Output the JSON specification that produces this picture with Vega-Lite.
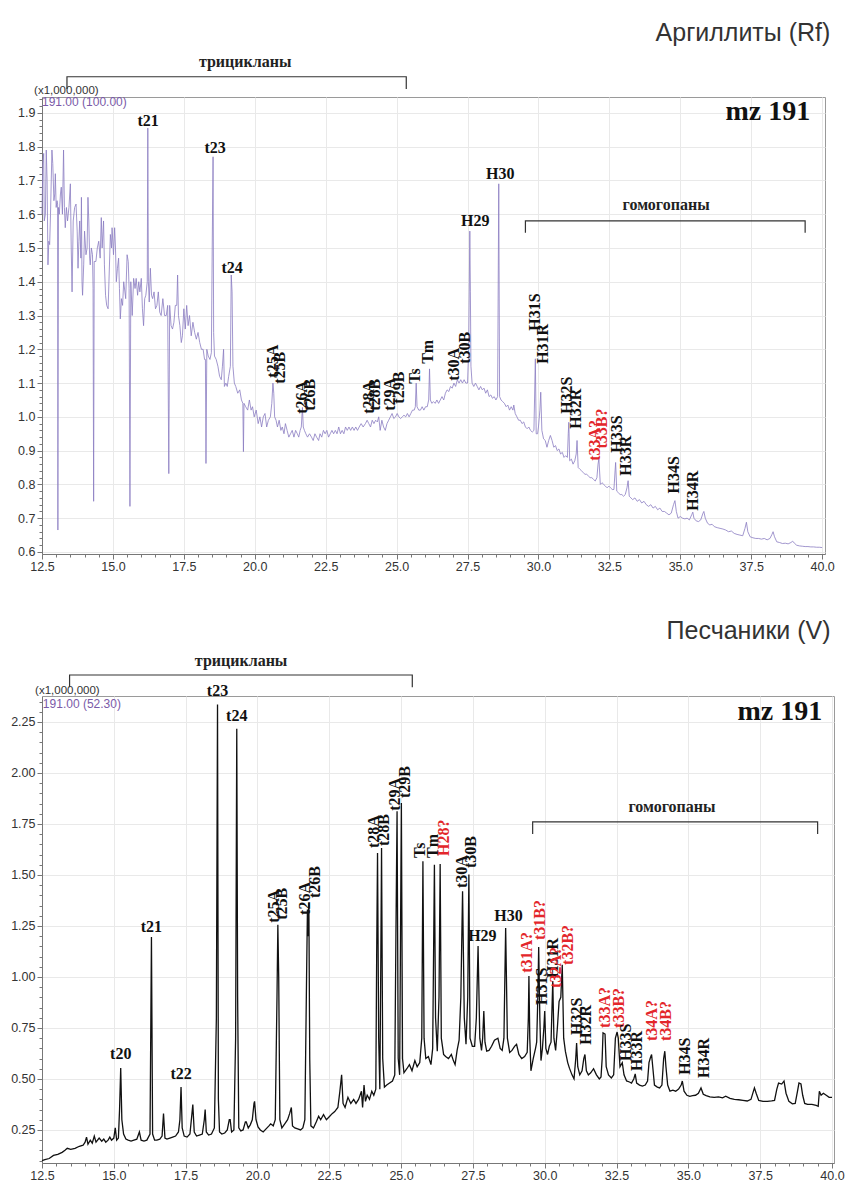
{
  "$schema": "https://vega.github.io/schema/vega-lite/v6.json",
  "padding": {"left": 10, "top": 20, "right": 0, "bottom": 0},
  "background": "white",
  "spacing": 142,
  "bounds": "flush",
  "resolve": {"scale": {"x": "independent", "y": "independent"}},
  "config": {
    "view": {"stroke": "#9a9a9a", "strokeWidth": 1},
    "axis": {"domainColor": "#777", "tickColor": "#777", "labelColor": "#333", "labelFont": "Liberation Sans", "labelFontSize": 12.5, "gridColor": "#e9e9e9", "labelOverlap": false, "labelFlush": false, "title": null, "labelPadding": 2},
    "axisX": {"labelPadding": 1}
  },
  "datasets": {
    "rf": [
      {"t":12.50,"v":1.60},{"t":12.53,"v":1.75},{"t":12.56,"v":1.78},{"t":12.58,"v":1.58},{"t":12.62,"v":1.60},{"t":12.65,"v":1.79},{"t":12.68,"v":1.70},{"t":12.71,"v":1.45},{"t":12.74,"v":1.52},{"t":12.77,"v":1.51},{"t":12.80,"v":1.60},{"t":12.85,"v":1.79},{"t":12.88,"v":1.75},{"t":12.92,"v":1.64},{"t":12.95,"v":1.66},{"t":12.97,"v":1.72},{"t":13.00,"v":1.62},{"t":13.03,"v":1.64},{"t":13.05,"v":1.63},{"t":13.06,"v":0.665},{"t":13.08,"v":1.62},{"t":13.11,"v":1.60},{"t":13.15,"v":1.66},{"t":13.18,"v":1.68},{"t":13.22,"v":1.60},{"t":13.26,"v":1.79},{"t":13.29,"v":1.62},{"t":13.32,"v":1.56},{"t":13.36,"v":1.62},{"t":13.40,"v":1.58},{"t":13.45,"v":1.62},{"t":13.50,"v":1.69},{"t":13.53,"v":1.50},{"t":13.56,"v":1.37},{"t":13.60,"v":1.58},{"t":13.65,"v":1.62},{"t":13.70,"v":1.63},{"t":13.74,"v":1.55},{"t":13.77,"v":1.44},{"t":13.80,"v":1.52},{"t":13.83,"v":1.58},{"t":13.87,"v":1.47},{"t":13.89,"v":1.65},{"t":13.91,"v":1.40},{"t":13.93,"v":1.36},{"t":13.97,"v":1.45},{"t":14.00,"v":1.55},{"t":14.05,"v":1.48},{"t":14.09,"v":1.50},{"t":14.12,"v":1.65},{"t":14.15,"v":1.58},{"t":14.18,"v":1.47},{"t":14.20,"v":1.45},{"t":14.24,"v":1.50},{"t":14.28,"v":1.48},{"t":14.30,"v":1.38},{"t":14.32,"v":0.75},{"t":14.34,"v":1.46},{"t":14.40,"v":1.46},{"t":14.45,"v":1.50},{"t":14.50,"v":1.52},{"t":14.55,"v":1.47},{"t":14.59,"v":1.59},{"t":14.62,"v":1.50},{"t":14.67,"v":1.58},{"t":14.70,"v":1.45},{"t":14.74,"v":1.36},{"t":14.78,"v":1.33},{"t":14.83,"v":1.32},{"t":14.86,"v":1.40},{"t":14.91,"v":1.54},{"t":14.95,"v":1.50},{"t":14.97,"v":1.56},{"t":15.02,"v":1.48},{"t":15.06,"v":1.56},{"t":15.09,"v":1.50},{"t":15.12,"v":1.40},{"t":15.16,"v":1.44},{"t":15.20,"v":1.47},{"t":15.23,"v":1.38},{"t":15.26,"v":1.29},{"t":15.30,"v":1.35},{"t":15.34,"v":1.33},{"t":15.38,"v":1.40},{"t":15.45,"v":1.35},{"t":15.50,"v":1.48},{"t":15.54,"v":1.46},{"t":15.57,"v":1.38},{"t":15.60,"v":0.735},{"t":15.63,"v":1.40},{"t":15.68,"v":1.30},{"t":15.73,"v":1.41},{"t":15.78,"v":1.38},{"t":15.82,"v":1.41},{"t":15.87,"v":1.36},{"t":15.91,"v":1.40},{"t":15.95,"v":1.37},{"t":16.00,"v":1.41},{"t":16.04,"v":1.32},{"t":16.08,"v":1.27},{"t":16.12,"v":1.35},{"t":16.16,"v":1.36},{"t":16.21,"v":1.40},{"t":16.23,"v":1.855},{"t":16.25,"v":1.40},{"t":16.28,"v":1.34},{"t":16.32,"v":1.44},{"t":16.36,"v":1.36},{"t":16.40,"v":1.35},{"t":16.45,"v":1.37},{"t":16.50,"v":1.32},{"t":16.55,"v":1.33},{"t":16.60,"v":1.37},{"t":16.65,"v":1.31},{"t":16.70,"v":1.30},{"t":16.76,"v":1.35},{"t":16.82,"v":1.30},{"t":16.88,"v":1.30},{"t":16.93,"v":1.33},{"t":16.97,"v":0.832},{"t":17.00,"v":1.33},{"t":17.05,"v":1.27},{"t":17.10,"v":1.26},{"t":17.15,"v":1.28},{"t":17.20,"v":1.33},{"t":17.25,"v":1.33},{"t":17.28,"v":1.42},{"t":17.31,"v":1.30},{"t":17.36,"v":1.27},{"t":17.41,"v":1.22},{"t":17.45,"v":1.24},{"t":17.50,"v":1.32},{"t":17.55,"v":1.26},{"t":17.60,"v":1.33},{"t":17.65,"v":1.27},{"t":17.70,"v":1.30},{"t":17.76,"v":1.24},{"t":17.82,"v":1.28},{"t":17.88,"v":1.25},{"t":17.94,"v":1.23},{"t":18.00,"v":1.25},{"t":18.06,"v":1.22},{"t":18.12,"v":1.20},{"t":18.18,"v":1.20},{"t":18.23,"v":1.17},{"t":18.26,"v":1.17},{"t":18.28,"v":0.862},{"t":18.31,"v":1.20},{"t":18.36,"v":1.18},{"t":18.42,"v":1.17},{"t":18.47,"v":1.19},{"t":18.50,"v":1.50},{"t":18.53,"v":1.77},{"t":18.55,"v":1.25},{"t":18.58,"v":1.18},{"t":18.64,"v":1.17},{"t":18.70,"v":1.15},{"t":18.76,"v":1.12},{"t":18.82,"v":1.11},{"t":18.86,"v":1.15},{"t":18.90,"v":1.20},{"t":18.93,"v":1.09},{"t":18.98,"v":1.10},{"t":19.03,"v":1.09},{"t":19.08,"v":1.12},{"t":19.14,"v":1.15},{"t":19.17,"v":1.42},{"t":19.20,"v":1.37},{"t":19.23,"v":1.15},{"t":19.28,"v":1.10},{"t":19.33,"v":1.09},{"t":19.40,"v":1.07},{"t":19.47,"v":1.08},{"t":19.53,"v":1.05},{"t":19.58,"v":1.04},{"t":19.60,"v":0.897},{"t":19.62,"v":1.04},{"t":19.68,"v":1.03},{"t":19.75,"v":1.02},{"t":19.81,"v":1.05},{"t":19.87,"v":1.02},{"t":19.92,"v":1.03},{"t":19.98,"v":1.00},{"t":20.05,"v":1.02},{"t":20.12,"v":0.98},{"t":20.18,"v":1.00},{"t":20.24,"v":0.97},{"t":20.30,"v":1.00},{"t":20.36,"v":1.01},{"t":20.42,"v":0.97},{"t":20.48,"v":0.99},{"t":20.55,"v":1.00},{"t":20.60,"v":1.04},{"t":20.64,"v":1.10},{"t":20.67,"v":1.07},{"t":20.70,"v":1.00},{"t":20.75,"v":0.99},{"t":20.80,"v":0.97},{"t":20.86,"v":0.99},{"t":20.92,"v":0.96},{"t":20.97,"v":0.97},{"t":21.03,"v":0.95},{"t":21.08,"v":0.98},{"t":21.14,"v":0.96},{"t":21.20,"v":0.94},{"t":21.26,"v":0.95},{"t":21.32,"v":0.96},{"t":21.38,"v":0.94},{"t":21.44,"v":0.96},{"t":21.50,"v":0.95},{"t":21.55,"v":0.94},{"t":21.60,"v":0.96},{"t":21.64,"v":0.97},{"t":21.68,"v":1.028},{"t":21.71,"v":0.97},{"t":21.75,"v":0.96},{"t":21.80,"v":0.95},{"t":21.86,"v":0.94},{"t":21.93,"v":0.95},{"t":22.00,"v":0.94},{"t":22.06,"v":0.93},{"t":22.12,"v":0.95},{"t":22.18,"v":0.94},{"t":22.25,"v":0.93},{"t":22.30,"v":0.95},{"t":22.36,"v":0.94},{"t":22.42,"v":0.96},{"t":22.48,"v":0.95},{"t":22.54,"v":0.96},{"t":22.60,"v":0.94},{"t":22.66,"v":0.95},{"t":22.72,"v":0.96},{"t":22.78,"v":0.95},{"t":22.84,"v":0.96},{"t":22.90,"v":0.95},{"t":22.96,"v":0.97},{"t":23.02,"v":0.95},{"t":23.08,"v":0.96},{"t":23.14,"v":0.95},{"t":23.20,"v":0.97},{"t":23.26,"v":0.96},{"t":23.32,"v":0.97},{"t":23.38,"v":0.96},{"t":23.44,"v":0.97},{"t":23.50,"v":0.96},{"t":23.56,"v":0.97},{"t":23.62,"v":0.96},{"t":23.68,"v":0.97},{"t":23.75,"v":0.98},{"t":23.82,"v":0.97},{"t":23.90,"v":0.98},{"t":23.96,"v":0.99},{"t":24.02,"v":0.98},{"t":24.08,"v":0.97},{"t":24.14,"v":0.99},{"t":24.20,"v":0.98},{"t":24.26,"v":0.99},{"t":24.32,"v":0.985},{"t":24.37,"v":1.00},{"t":24.42,"v":0.96},{"t":24.48,"v":0.99},{"t":24.54,"v":0.97},{"t":24.60,"v":0.96},{"t":24.66,"v":0.98},{"t":24.72,"v":0.99},{"t":24.78,"v":1.00},{"t":24.84,"v":1.01},{"t":24.90,"v":0.995},{"t":24.96,"v":1.00},{"t":25.02,"v":1.01},{"t":25.08,"v":1.00},{"t":25.14,"v":0.995},{"t":25.20,"v":1.00},{"t":25.26,"v":1.005},{"t":25.32,"v":1.00},{"t":25.38,"v":1.01},{"t":25.44,"v":1.00},{"t":25.50,"v":1.01},{"t":25.56,"v":1.02},{"t":25.62,"v":1.02},{"t":25.66,"v":1.03},{"t":25.69,"v":1.10},{"t":25.72,"v":1.03},{"t":25.78,"v":1.02},{"t":25.84,"v":1.02},{"t":25.90,"v":1.03},{"t":25.96,"v":1.02},{"t":26.02,"v":1.03},{"t":26.08,"v":1.03},{"t":26.13,"v":1.05},{"t":26.16,"v":1.142},{"t":26.19,"v":1.05},{"t":26.24,"v":1.04},{"t":26.30,"v":1.045},{"t":26.36,"v":1.04},{"t":26.42,"v":1.05},{"t":26.48,"v":1.04},{"t":26.54,"v":1.05},{"t":26.60,"v":1.06},{"t":26.66,"v":1.05},{"t":26.72,"v":1.07},{"t":26.78,"v":1.08},{"t":26.84,"v":1.075},{"t":26.90,"v":1.09},{"t":26.96,"v":1.085},{"t":27.02,"v":1.10},{"t":27.08,"v":1.09},{"t":27.14,"v":1.11},{"t":27.20,"v":1.10},{"t":27.26,"v":1.11},{"t":27.32,"v":1.10},{"t":27.38,"v":1.11},{"t":27.44,"v":1.10},{"t":27.50,"v":1.10},{"t":27.54,"v":1.20},{"t":27.56,"v":1.37},{"t":27.58,"v":1.55},{"t":27.60,"v":1.37},{"t":27.62,"v":1.15},{"t":27.66,"v":1.10},{"t":27.72,"v":1.09},{"t":27.78,"v":1.10},{"t":27.84,"v":1.09},{"t":27.90,"v":1.08},{"t":27.96,"v":1.09},{"t":28.02,"v":1.08},{"t":28.08,"v":1.085},{"t":28.14,"v":1.07},{"t":28.20,"v":1.08},{"t":28.26,"v":1.06},{"t":28.32,"v":1.065},{"t":28.38,"v":1.055},{"t":28.44,"v":1.06},{"t":28.50,"v":1.05},{"t":28.56,"v":1.06},{"t":28.60,"v":1.69},{"t":28.63,"v":1.06},{"t":28.68,"v":1.05},{"t":28.74,"v":1.045},{"t":28.80,"v":1.04},{"t":28.86,"v":1.03},{"t":28.92,"v":1.035},{"t":28.98,"v":1.02},{"t":29.04,"v":1.03},{"t":29.10,"v":1.02},{"t":29.13,"v":1.035},{"t":29.18,"v":1.01},{"t":29.24,"v":1.00},{"t":29.30,"v":0.99},{"t":29.36,"v":0.99},{"t":29.42,"v":0.98},{"t":29.48,"v":0.985},{"t":29.54,"v":0.97},{"t":29.60,"v":0.965},{"t":29.66,"v":0.97},{"t":29.72,"v":0.96},{"t":29.78,"v":0.955},{"t":29.84,"v":0.96},{"t":29.89,"v":1.172},{"t":29.92,"v":0.95},{"t":29.97,"v":0.95},{"t":30.00,"v":0.97},{"t":30.05,"v":1.02},{"t":30.08,"v":1.073},{"t":30.12,"v":0.96},{"t":30.18,"v":0.935},{"t":30.24,"v":0.93},{"t":30.30,"v":0.91},{"t":30.36,"v":0.93},{"t":30.42,"v":0.945},{"t":30.48,"v":0.93},{"t":30.54,"v":0.91},{"t":30.60,"v":0.915},{"t":30.66,"v":0.90},{"t":30.72,"v":0.905},{"t":30.78,"v":0.89},{"t":30.84,"v":0.895},{"t":30.90,"v":0.88},{"t":30.96,"v":0.885},{"t":31.02,"v":0.88},{"t":31.05,"v":0.95},{"t":31.07,"v":0.984},{"t":31.10,"v":0.87},{"t":31.16,"v":0.875},{"t":31.22,"v":0.86},{"t":31.28,"v":0.87},{"t":31.33,"v":0.89},{"t":31.36,"v":0.93},{"t":31.40,"v":0.85},{"t":31.46,"v":0.845},{"t":31.52,"v":0.84},{"t":31.58,"v":0.835},{"t":31.64,"v":0.83},{"t":31.70,"v":0.83},{"t":31.76,"v":0.825},{"t":31.82,"v":0.82},{"t":31.88,"v":0.82},{"t":31.94,"v":0.815},{"t":32.00,"v":0.81},{"t":32.06,"v":0.82},{"t":32.10,"v":0.86},{"t":32.13,"v":0.876},{"t":32.18,"v":0.80},{"t":32.24,"v":0.805},{"t":32.30,"v":0.80},{"t":32.36,"v":0.795},{"t":32.42,"v":0.79},{"t":32.48,"v":0.795},{"t":32.54,"v":0.79},{"t":32.60,"v":0.785},{"t":32.66,"v":0.785},{"t":32.70,"v":0.84},{"t":32.72,"v":0.865},{"t":32.76,"v":0.78},{"t":32.82,"v":0.775},{"t":32.88,"v":0.77},{"t":32.94,"v":0.77},{"t":33.00,"v":0.765},{"t":33.06,"v":0.77},{"t":33.12,"v":0.79},{"t":33.16,"v":0.811},{"t":33.20,"v":0.765},{"t":33.26,"v":0.76},{"t":33.32,"v":0.755},{"t":33.40,"v":0.76},{"t":33.48,"v":0.75},{"t":33.56,"v":0.755},{"t":33.64,"v":0.745},{"t":33.72,"v":0.75},{"t":33.80,"v":0.74},{"t":33.88,"v":0.735},{"t":33.96,"v":0.74},{"t":34.04,"v":0.73},{"t":34.12,"v":0.735},{"t":34.20,"v":0.725},{"t":34.28,"v":0.73},{"t":34.36,"v":0.72},{"t":34.44,"v":0.72},{"t":34.52,"v":0.715},{"t":34.60,"v":0.71},{"t":34.68,"v":0.715},{"t":34.76,"v":0.74},{"t":34.81,"v":0.752},{"t":34.86,"v":0.72},{"t":34.92,"v":0.70},{"t":35.00,"v":0.705},{"t":35.08,"v":0.70},{"t":35.16,"v":0.698},{"t":35.24,"v":0.70},{"t":35.32,"v":0.695},{"t":35.40,"v":0.71},{"t":35.44,"v":0.718},{"t":35.48,"v":0.70},{"t":35.56,"v":0.692},{"t":35.64,"v":0.69},{"t":35.72,"v":0.695},{"t":35.80,"v":0.715},{"t":35.83,"v":0.72},{"t":35.88,"v":0.70},{"t":35.96,"v":0.685},{"t":36.04,"v":0.68},{"t":36.12,"v":0.682},{"t":36.20,"v":0.675},{"t":36.30,"v":0.672},{"t":36.40,"v":0.67},{"t":36.50,"v":0.668},{"t":36.60,"v":0.665},{"t":36.70,"v":0.66},{"t":36.80,"v":0.662},{"t":36.90,"v":0.655},{"t":37.00,"v":0.652},{"t":37.10,"v":0.65},{"t":37.20,"v":0.648},{"t":37.28,"v":0.67},{"t":37.33,"v":0.688},{"t":37.38,"v":0.66},{"t":37.46,"v":0.645},{"t":37.56,"v":0.642},{"t":37.66,"v":0.64},{"t":37.76,"v":0.64},{"t":37.86,"v":0.638},{"t":37.96,"v":0.64},{"t":38.06,"v":0.636},{"t":38.16,"v":0.64},{"t":38.23,"v":0.652},{"t":38.27,"v":0.66},{"t":38.32,"v":0.645},{"t":38.40,"v":0.63},{"t":38.50,"v":0.628},{"t":38.60,"v":0.625},{"t":38.70,"v":0.626},{"t":38.80,"v":0.624},{"t":38.90,"v":0.628},{"t":38.96,"v":0.632},{"t":39.02,"v":0.626},{"t":39.10,"v":0.62},{"t":39.20,"v":0.618},{"t":39.30,"v":0.617},{"t":39.40,"v":0.616},{"t":39.50,"v":0.616},{"t":39.60,"v":0.615},{"t":39.70,"v":0.615},{"t":39.80,"v":0.614},{"t":39.90,"v":0.614},{"t":40.00,"v":0.613}
    ],
    "vs": [
      {"t":12.50,"v":0.100},{"t":12.60,"v":0.105},{"t":12.75,"v":0.110},{"t":12.90,"v":0.125},{"t":13.05,"v":0.130},{"t":13.20,"v":0.140},{"t":13.30,"v":0.150},{"t":13.38,"v":0.160},{"t":13.50,"v":0.155},{"t":13.65,"v":0.160},{"t":13.80,"v":0.170},{"t":13.93,"v":0.175},{"t":14.00,"v":0.190},{"t":14.05,"v":0.215},{"t":14.10,"v":0.180},{"t":14.18,"v":0.200},{"t":14.25,"v":0.185},{"t":14.32,"v":0.220},{"t":14.38,"v":0.190},{"t":14.49,"v":0.210},{"t":14.58,"v":0.195},{"t":14.65,"v":0.205},{"t":14.72,"v":0.190},{"t":14.80,"v":0.200},{"t":14.86,"v":0.215},{"t":14.92,"v":0.200},{"t":15.00,"v":0.210},{"t":15.05,"v":0.260},{"t":15.10,"v":0.200},{"t":15.16,"v":0.210},{"t":15.20,"v":0.350},{"t":15.24,"v":0.554},{"t":15.28,"v":0.300},{"t":15.34,"v":0.230},{"t":15.42,"v":0.205},{"t":15.50,"v":0.200},{"t":15.60,"v":0.195},{"t":15.70,"v":0.200},{"t":15.80,"v":0.205},{"t":15.89,"v":0.240},{"t":15.95,"v":0.200},{"t":16.05,"v":0.195},{"t":16.15,"v":0.200},{"t":16.26,"v":0.230},{"t":16.31,"v":1.196},{"t":16.35,"v":0.230},{"t":16.42,"v":0.200},{"t":16.50,"v":0.200},{"t":16.60,"v":0.205},{"t":16.68,"v":0.220},{"t":16.73,"v":0.330},{"t":16.78,"v":0.210},{"t":16.85,"v":0.205},{"t":16.95,"v":0.210},{"t":17.05,"v":0.215},{"t":17.15,"v":0.220},{"t":17.25,"v":0.240},{"t":17.30,"v":0.300},{"t":17.34,"v":0.460},{"t":17.38,"v":0.260},{"t":17.45,"v":0.220},{"t":17.55,"v":0.215},{"t":17.65,"v":0.230},{"t":17.72,"v":0.330},{"t":17.75,"v":0.374},{"t":17.80,"v":0.240},{"t":17.88,"v":0.220},{"t":17.98,"v":0.225},{"t":18.08,"v":0.230},{"t":18.15,"v":0.300},{"t":18.18,"v":0.350},{"t":18.22,"v":0.240},{"t":18.30,"v":0.225},{"t":18.40,"v":0.230},{"t":18.50,"v":0.260},{"t":18.57,"v":0.800},{"t":18.61,"v":2.335},{"t":18.64,"v":0.400},{"t":18.68,"v":0.240},{"t":18.76,"v":0.230},{"t":18.86,"v":0.235},{"t":18.95,"v":0.250},{"t":19.02,"v":0.300},{"t":19.05,"v":0.300},{"t":19.10,"v":0.240},{"t":19.18,"v":0.250},{"t":19.24,"v":0.700},{"t":19.28,"v":2.216},{"t":19.31,"v":0.900},{"t":19.35,"v":0.260},{"t":19.42,"v":0.245},{"t":19.50,"v":0.250},{"t":19.58,"v":0.290},{"t":19.61,"v":0.290},{"t":19.68,"v":0.260},{"t":19.75,"v":0.275},{"t":19.82,"v":0.300},{"t":19.88,"v":0.380},{"t":19.90,"v":0.390},{"t":19.95,"v":0.300},{"t":20.02,"v":0.265},{"t":20.10,"v":0.250},{"t":20.20,"v":0.240},{"t":20.30,"v":0.255},{"t":20.40,"v":0.270},{"t":20.46,"v":0.280},{"t":20.55,"v":0.270},{"t":20.62,"v":0.300},{"t":20.68,"v":0.900},{"t":20.71,"v":1.256},{"t":20.74,"v":1.000},{"t":20.78,"v":0.300},{"t":20.85,"v":0.260},{"t":20.95,"v":0.280},{"t":21.05,"v":0.300},{"t":21.12,"v":0.330},{"t":21.18,"v":0.360},{"t":21.22,"v":0.270},{"t":21.30,"v":0.260},{"t":21.40,"v":0.255},{"t":21.50,"v":0.250},{"t":21.58,"v":0.260},{"t":21.65,"v":0.300},{"t":21.71,"v":1.000},{"t":21.74,"v":1.330},{"t":21.76,"v":1.200},{"t":21.79,"v":1.363},{"t":21.82,"v":0.600},{"t":21.86,"v":0.270},{"t":21.95,"v":0.260},{"t":22.05,"v":0.290},{"t":22.13,"v":0.317},{"t":22.20,"v":0.300},{"t":22.30,"v":0.325},{"t":22.40,"v":0.300},{"t":22.50,"v":0.315},{"t":22.60,"v":0.330},{"t":22.69,"v":0.340},{"t":22.80,"v":0.360},{"t":22.87,"v":0.440},{"t":22.93,"v":0.520},{"t":22.98,"v":0.380},{"t":23.05,"v":0.360},{"t":23.15,"v":0.410},{"t":23.25,"v":0.380},{"t":23.35,"v":0.400},{"t":23.43,"v":0.380},{"t":23.52,"v":0.400},{"t":23.62,"v":0.440},{"t":23.66,"v":0.360},{"t":23.71,"v":0.470},{"t":23.76,"v":0.390},{"t":23.82,"v":0.420},{"t":23.90,"v":0.400},{"t":23.98,"v":0.440},{"t":24.05,"v":0.420},{"t":24.12,"v":0.450},{"t":24.15,"v":1.100},{"t":24.18,"v":1.608},{"t":24.22,"v":0.700},{"t":24.26,"v":0.450},{"t":24.29,"v":1.000},{"t":24.32,"v":1.632},{"t":24.36,"v":0.600},{"t":24.42,"v":0.460},{"t":24.50,"v":0.470},{"t":24.60,"v":0.480},{"t":24.70,"v":0.490},{"t":24.78,"v":0.520},{"t":24.82,"v":1.200},{"t":24.86,"v":1.812},{"t":24.90,"v":0.600},{"t":24.95,"v":0.520},{"t":24.98,"v":1.200},{"t":25.01,"v":1.853},{"t":25.05,"v":0.600},{"t":25.10,"v":0.530},{"t":25.20,"v":0.550},{"t":25.29,"v":0.570},{"t":25.38,"v":0.540},{"t":25.48,"v":0.590},{"t":25.56,"v":0.560},{"t":25.65,"v":0.580},{"t":25.72,"v":0.700},{"t":25.76,"v":1.567},{"t":25.80,"v":0.700},{"t":25.86,"v":0.600},{"t":25.95,"v":0.610},{"t":26.04,"v":0.570},{"t":26.10,"v":0.650},{"t":26.16,"v":1.550},{"t":26.20,"v":0.800},{"t":26.26,"v":0.636},{"t":26.32,"v":0.900},{"t":26.36,"v":1.554},{"t":26.40,"v":0.700},{"t":26.48,"v":0.620},{"t":26.55,"v":0.610},{"t":26.65,"v":0.600},{"t":26.75,"v":0.620},{"t":26.82,"v":0.590},{"t":26.88,"v":0.570},{"t":26.95,"v":0.640},{"t":27.02,"v":0.690},{"t":27.08,"v":0.900},{"t":27.14,"v":1.420},{"t":27.20,"v":0.800},{"t":27.26,"v":0.670},{"t":27.32,"v":0.900},{"t":27.36,"v":1.502},{"t":27.40,"v":0.700},{"t":27.48,"v":0.660},{"t":27.56,"v":0.660},{"t":27.62,"v":0.800},{"t":27.68,"v":1.152},{"t":27.74,"v":0.700},{"t":27.80,"v":0.640},{"t":27.84,"v":0.700},{"t":27.88,"v":0.833},{"t":27.92,"v":0.680},{"t":27.98,"v":0.636},{"t":28.06,"v":0.640},{"t":28.15,"v":0.660},{"t":28.25,"v":0.690},{"t":28.37,"v":0.700},{"t":28.45,"v":0.650},{"t":28.52,"v":0.640},{"t":28.58,"v":0.700},{"t":28.64,"v":1.240},{"t":28.70,"v":0.700},{"t":28.78,"v":0.630},{"t":28.86,"v":0.640},{"t":28.95,"v":0.660},{"t":29.02,"v":0.670},{"t":29.10,"v":0.620},{"t":29.20,"v":0.600},{"t":29.30,"v":0.610},{"t":29.39,"v":0.630},{"t":29.43,"v":0.800},{"t":29.45,"v":1.005},{"t":29.48,"v":0.700},{"t":29.52,"v":0.540},{"t":29.60,"v":0.600},{"t":29.68,"v":0.650},{"t":29.72,"v":0.680},{"t":29.76,"v":0.900},{"t":29.79,"v":1.147},{"t":29.83,"v":0.800},{"t":29.87,"v":0.590},{"t":29.92,"v":0.650},{"t":29.97,"v":0.750},{"t":30.00,"v":0.833},{"t":30.04,"v":0.650},{"t":30.10,"v":0.620},{"t":30.16,"v":0.660},{"t":30.22,"v":0.680},{"t":30.28,"v":0.980},{"t":30.32,"v":0.700},{"t":30.38,"v":0.640},{"t":30.44,"v":0.750},{"t":30.50,"v":0.880},{"t":30.56,"v":0.900},{"t":30.61,"v":1.060},{"t":30.66,"v":0.700},{"t":30.72,"v":0.635},{"t":30.80,"v":0.580},{"t":30.86,"v":0.553},{"t":30.95,"v":0.520},{"t":31.02,"v":0.500},{"t":31.08,"v":0.600},{"t":31.11,"v":0.676},{"t":31.15,"v":0.560},{"t":31.22,"v":0.520},{"t":31.30,"v":0.540},{"t":31.36,"v":0.600},{"t":31.40,"v":0.620},{"t":31.45,"v":0.540},{"t":31.52,"v":0.520},{"t":31.60,"v":0.530},{"t":31.70,"v":0.550},{"t":31.80,"v":0.520},{"t":31.90,"v":0.500},{"t":31.96,"v":0.510},{"t":32.00,"v":0.600},{"t":32.03,"v":0.726},{"t":32.10,"v":0.720},{"t":32.14,"v":0.560},{"t":32.22,"v":0.520},{"t":32.32,"v":0.505},{"t":32.40,"v":0.520},{"t":32.46,"v":0.700},{"t":32.52,"v":0.730},{"t":32.56,"v":0.700},{"t":32.62,"v":0.560},{"t":32.70,"v":0.580},{"t":32.76,"v":0.520},{"t":32.85,"v":0.490},{"t":32.95,"v":0.485},{"t":33.02,"v":0.480},{"t":33.10,"v":0.500},{"t":33.15,"v":0.525},{"t":33.20,"v":0.480},{"t":33.30,"v":0.470},{"t":33.40,"v":0.465},{"t":33.50,"v":0.470},{"t":33.58,"v":0.490},{"t":33.63,"v":0.580},{"t":33.67,"v":0.600},{"t":33.72,"v":0.620},{"t":33.76,"v":0.560},{"t":33.82,"v":0.470},{"t":33.92,"v":0.460},{"t":34.00,"v":0.456},{"t":34.08,"v":0.470},{"t":34.14,"v":0.600},{"t":34.18,"v":0.636},{"t":34.22,"v":0.560},{"t":34.28,"v":0.470},{"t":34.36,"v":0.440},{"t":34.46,"v":0.445},{"t":34.56,"v":0.440},{"t":34.66,"v":0.450},{"t":34.75,"v":0.470},{"t":34.79,"v":0.490},{"t":34.85,"v":0.440},{"t":34.95,"v":0.420},{"t":35.05,"v":0.415},{"t":35.15,"v":0.418},{"t":35.25,"v":0.420},{"t":35.35,"v":0.430},{"t":35.44,"v":0.456},{"t":35.52,"v":0.425},{"t":35.62,"v":0.418},{"t":35.75,"v":0.412},{"t":35.90,"v":0.410},{"t":36.05,"v":0.412},{"t":36.19,"v":0.407},{"t":36.30,"v":0.415},{"t":36.45,"v":0.405},{"t":36.60,"v":0.400},{"t":36.75,"v":0.398},{"t":36.90,"v":0.395},{"t":37.05,"v":0.392},{"t":37.18,"v":0.400},{"t":37.30,"v":0.456},{"t":37.36,"v":0.430},{"t":37.45,"v":0.395},{"t":37.60,"v":0.390},{"t":37.75,"v":0.390},{"t":37.90,"v":0.392},{"t":38.00,"v":0.395},{"t":38.08,"v":0.450},{"t":38.14,"v":0.480},{"t":38.25,"v":0.475},{"t":38.33,"v":0.490},{"t":38.40,"v":0.430},{"t":38.50,"v":0.390},{"t":38.62,"v":0.378},{"t":38.72,"v":0.380},{"t":38.80,"v":0.440},{"t":38.85,"v":0.480},{"t":38.92,"v":0.475},{"t":38.98,"v":0.420},{"t":39.05,"v":0.380},{"t":39.15,"v":0.375},{"t":39.30,"v":0.375},{"t":39.45,"v":0.370},{"t":39.52,"v":0.366},{"t":39.56,"v":0.440},{"t":39.62,"v":0.420},{"t":39.70,"v":0.430},{"t":39.80,"v":0.420},{"t":39.90,"v":0.410},{"t":40.00,"v":0.410}
    ],
    "rf_labels": [
      {"t":16.24,"v":1.862,"label":"t21","orient":"h","status":"identified"},
      {"t":18.60,"v":1.782,"label":"t23","orient":"h","status":"identified"},
      {"t":19.20,"v":1.427,"label":"t24","orient":"h","status":"identified"},
      {"t":27.77,"v":1.566,"label":"H29","orient":"h","status":"identified"},
      {"t":28.65,"v":1.705,"label":"H30","orient":"h","status":"identified"},
      {"t":20.63,"v":1.116,"label":"t25A","orient":"v","status":"identified"},
      {"t":20.90,"v":1.098,"label":"t25B","orient":"v","status":"identified"},
      {"t":21.67,"v":1.009,"label":"t26A","orient":"v","status":"identified"},
      {"t":21.93,"v":1.018,"label":"t26B","orient":"v","status":"identified"},
      {"t":24.02,"v":1.009,"label":"t28A","orient":"v","status":"identified"},
      {"t":24.25,"v":1.018,"label":"t28B","orient":"v","status":"identified"},
      {"t":24.78,"v":1.018,"label":"t29A","orient":"v","status":"identified"},
      {"t":25.08,"v":1.039,"label":"t29B","orient":"v","status":"identified"},
      {"t":25.66,"v":1.098,"label":"Ts","orient":"v","status":"identified"},
      {"t":26.11,"v":1.157,"label":"Tm","orient":"v","status":"identified"},
      {"t":27.02,"v":1.107,"label":"t30A","orient":"v","status":"identified"},
      {"t":27.40,"v":1.157,"label":"t30B","orient":"v","status":"identified"},
      {"t":29.89,"v":1.255,"label":"H31S","orient":"v","status":"identified"},
      {"t":30.17,"v":1.157,"label":"H31R","orient":"v","status":"identified"},
      {"t":31.01,"v":1.009,"label":"H32S","orient":"v","status":"identified"},
      {"t":31.33,"v":0.965,"label":"H32R","orient":"v","status":"identified"},
      {"t":32.01,"v":0.870,"label":"t33A?","orient":"v","status":"tentative"},
      {"t":32.25,"v":0.906,"label":"t33B?","orient":"v","status":"tentative"},
      {"t":32.77,"v":0.894,"label":"H33S","orient":"v","status":"identified"},
      {"t":33.09,"v":0.826,"label":"H33R","orient":"v","status":"identified"},
      {"t":34.77,"v":0.773,"label":"H34S","orient":"v","status":"identified"},
      {"t":35.44,"v":0.722,"label":"H34R","orient":"v","status":"identified"}
    ],
    "v_labels": [
      {"t":15.24,"v":0.60,"label":"t20","orient":"h","status":"identified"},
      {"t":16.31,"v":1.22,"label":"t21","orient":"h","status":"identified"},
      {"t":17.34,"v":0.50,"label":"t22","orient":"h","status":"identified"},
      {"t":18.61,"v":2.377,"label":"t23","orient":"h","status":"identified"},
      {"t":19.28,"v":2.255,"label":"t24","orient":"h","status":"identified"},
      {"t":27.83,"v":1.176,"label":"H29","orient":"h","status":"identified"},
      {"t":28.74,"v":1.275,"label":"H30","orient":"h","status":"identified"},
      {"t":20.56,"v":1.265,"label":"t25A","orient":"v","status":"identified"},
      {"t":20.87,"v":1.28,"label":"t25B","orient":"v","status":"identified"},
      {"t":21.64,"v":1.304,"label":"t26A","orient":"v","status":"identified"},
      {"t":21.99,"v":1.387,"label":"t26B","orient":"v","status":"identified"},
      {"t":24.05,"v":1.632,"label":"t28A","orient":"v","status":"identified"},
      {"t":24.39,"v":1.642,"label":"t28B","orient":"v","status":"identified"},
      {"t":24.80,"v":1.814,"label":"t29A","orient":"v","status":"identified"},
      {"t":25.14,"v":1.877,"label":"t29B","orient":"v","status":"identified"},
      {"t":25.66,"v":1.583,"label":"Ts","orient":"v","status":"identified"},
      {"t":26.10,"v":1.583,"label":"Tm","orient":"v","status":"identified"},
      {"t":26.49,"v":1.593,"label":"H28?","orient":"v","status":"tentative"},
      {"t":27.11,"v":1.436,"label":"t30A","orient":"v","status":"identified"},
      {"t":27.42,"v":1.534,"label":"t30B","orient":"v","status":"identified"},
      {"t":29.40,"v":1.02,"label":"t31A?","orient":"v","status":"tentative"},
      {"t":29.82,"v":1.181,"label":"t31B?","orient":"v","status":"tentative"},
      {"t":29.91,"v":0.863,"label":"H31S","orient":"v","status":"identified"},
      {"t":30.30,"v":0.995,"label":"H31R","orient":"v","status":"identified"},
      {"t":30.40,"v":0.946,"label":"t32A?","orient":"v","status":"tentative"},
      {"t":30.80,"v":1.059,"label":"t32B?","orient":"v","status":"tentative"},
      {"t":31.11,"v":0.716,"label":"H32S","orient":"v","status":"identified"},
      {"t":31.44,"v":0.667,"label":"H32R","orient":"v","status":"identified"},
      {"t":32.11,"v":0.75,"label":"t33A?","orient":"v","status":"tentative"},
      {"t":32.59,"v":0.75,"label":"t33B?","orient":"v","status":"tentative"},
      {"t":32.82,"v":0.588,"label":"H33S","orient":"v","status":"identified"},
      {"t":33.22,"v":0.539,"label":"H33R","orient":"v","status":"identified"},
      {"t":33.74,"v":0.686,"label":"t34A?","orient":"v","status":"tentative"},
      {"t":34.21,"v":0.686,"label":"t34B?","orient":"v","status":"tentative"},
      {"t":34.90,"v":0.52,"label":"H34S","orient":"v","status":"identified"},
      {"t":35.53,"v":0.505,"label":"H34R","orient":"v","status":"identified"}
    ],
    "rf_notes": [
      {"t":40.29,"v":2.113,"text":"Аргиллиты (Rf)","role":"title"},
      {"t":19.66,"v":2.036,"text":"трицикланы","role":"group"},
      {"t":34.50,"v":1.613,"text":"гомогопаны","role":"group"},
      {"t":12.22,"v":1.956,"text":"(x1,000,000)","role":"scale"},
      {"t":12.50,"v":1.921,"text":"191.00 (100.00)","role":"ion"},
      {"t":39.58,"v":1.879,"text":"mz 191","role":"mz"}
    ],
    "v_notes": [
      {"t":39.95,"v":2.657,"text":"Песчаники (V)","role":"title"},
      {"t":19.43,"v":2.525,"text":"трицикланы","role":"group"},
      {"t":34.43,"v":1.809,"text":"гомогопаны","role":"group"},
      {"t":12.26,"v":2.387,"text":"(x1,000,000)","role":"scale"},
      {"t":12.53,"v":2.32,"text":"191.00 (52.30)","role":"ion"},
      {"t":39.66,"v":2.26,"text":"mz 191","role":"mz"}
    ],
    "rf_brackets": [
      {"t":13.38,"v":1.971,"group":"tri","ord":1},{"t":13.38,"v":2.007,"group":"tri","ord":2},{"t":25.34,"v":2.007,"group":"tri","ord":3},{"t":25.34,"v":1.971,"group":"tri","ord":4},
      {"t":29.54,"v":1.545,"group":"homo","ord":1},{"t":29.54,"v":1.58,"group":"homo","ord":2},{"t":39.40,"v":1.58,"group":"homo","ord":3},{"t":39.40,"v":1.545,"group":"homo","ord":4}
    ],
    "v_brackets": [
      {"t":13.46,"v":2.42,"group":"tri","ord":1},{"t":13.46,"v":2.48,"group":"tri","ord":2},{"t":25.39,"v":2.48,"group":"tri","ord":3},{"t":25.39,"v":2.42,"group":"tri","ord":4},
      {"t":29.58,"v":1.70,"group":"homo","ord":1},{"t":29.58,"v":1.76,"group":"homo","ord":2},{"t":39.50,"v":1.76,"group":"homo","ord":3},{"t":39.50,"v":1.70,"group":"homo","ord":4}
    ]
  },
  "vconcat": [
    {
      "width": 783,
      "height": 457,
      "encoding": {
        "x": {"field": "t", "type": "quantitative", "scale": {"domain": [12.5, 40.1], "nice": false, "zero": false},
          "axis": {"values": [12.5,13,13.5,14,14.5,15,15.5,16,16.5,17,17.5,18,18.5,19,19.5,20,20.5,21,21.5,22,22.5,23,23.5,24,24.5,25,25.5,26,26.5,27,27.5,28,28.5,29,29.5,30,30.5,31,31.5,32,32.5,33,33.5,34,34.5,35,35.5,36,36.5,37,37.5,38,38.5,39,39.5,40],
            "labelExpr": "abs(datum.value/2.5 - round(datum.value/2.5)) < 0.001 ? format(datum.value, '.1f') : ''",
            "tickSize": {"condition": {"test": "abs(datum.value/2.5 - round(datum.value/2.5)) < 0.001", "value": 5}, "value": 3},
            "gridOpacity": {"condition": {"test": "abs(datum.value/2.5 - round(datum.value/2.5)) < 0.001", "value": 1}, "value": 0}}},
        "y": {"field": "v", "type": "quantitative", "scale": {"domain": [0.594, 1.947], "nice": false, "zero": false},
          "axis": {"values": [0.6,0.62,0.64,0.66,0.68,0.7,0.72,0.74,0.76,0.78,0.8,0.82,0.84,0.86,0.88,0.9,0.92,0.94,0.96,0.98,1,1.02,1.04,1.06,1.08,1.1,1.12,1.14,1.16,1.18,1.2,1.22,1.24,1.26,1.28,1.3,1.32,1.34,1.36,1.38,1.4,1.42,1.44,1.46,1.48,1.5,1.52,1.54,1.56,1.58,1.6,1.62,1.64,1.66,1.68,1.7,1.72,1.74,1.76,1.78,1.8,1.82,1.84,1.86,1.88,1.9,1.92,1.94],
            "labelExpr": "abs(datum.value*10 - round(datum.value*10)) < 0.001 ? format(datum.value, '.1f') : ''",
            "tickSize": {"condition": {"test": "abs(datum.value*10 - round(datum.value*10)) < 0.001", "value": 5}, "value": 3},
            "gridOpacity": {"condition": {"test": "abs(datum.value*10 - round(datum.value*10)) < 0.001", "value": 1}, "value": 0}}}
      },
      "layer": [
        {"data": {"name": "rf"}, "mark": {"type": "line", "color": "#8a7cc2", "strokeWidth": 0.8}},
        {"data": {"name": "rf_brackets"}, "mark": {"type": "line", "color": "#333", "strokeWidth": 1.2}, "encoding": {"detail": {"field": "group"}, "order": {"field": "ord"}}},
        {"data": {"name": "rf_labels"}, "transform": [{"filter": "datum.orient === 'h'"}], "mark": {"type": "text", "font": "Liberation Serif", "fontWeight": "bold", "fontSize": 16, "align": "center", "baseline": "alphabetic"},
          "encoding": {"text": {"field": "label"}, "color": {"field": "status", "type": "nominal", "scale": {"domain": ["identified", "tentative"], "range": ["#111111", "#e3262b"]}, "legend": null}}},
        {"data": {"name": "rf_labels"}, "transform": [{"filter": "datum.orient === 'v'"}], "mark": {"type": "text", "font": "Liberation Serif", "fontWeight": "bold", "fontSize": 16, "angle": 270, "align": "left", "baseline": "middle"},
          "encoding": {"text": {"field": "label"}, "color": {"field": "status", "type": "nominal", "scale": {"domain": ["identified", "tentative"], "range": ["#111111", "#e3262b"]}, "legend": null}}},
        {"data": {"name": "rf_notes"}, "transform": [{"filter": "datum.role === 'title'"}], "mark": {"type": "text", "font": "Liberation Sans", "fontSize": 25, "align": "right", "baseline": "alphabetic", "color": "#333"}, "encoding": {"text": {"field": "text"}}},
        {"data": {"name": "rf_notes"}, "transform": [{"filter": "datum.role === 'group'"}], "mark": {"type": "text", "font": "Liberation Serif", "fontWeight": "bold", "fontSize": 16, "align": "center", "baseline": "alphabetic", "color": "#222"}, "encoding": {"text": {"field": "text"}}},
        {"data": {"name": "rf_notes"}, "transform": [{"filter": "datum.role === 'scale'"}], "mark": {"type": "text", "font": "Liberation Sans", "fontSize": 11.5, "align": "left", "baseline": "alphabetic", "color": "#333"}, "encoding": {"text": {"field": "text"}}},
        {"data": {"name": "rf_notes"}, "transform": [{"filter": "datum.role === 'ion'"}], "mark": {"type": "text", "font": "Liberation Sans", "fontSize": 12, "align": "left", "baseline": "alphabetic", "color": "#7a5aa8"}, "encoding": {"text": {"field": "text"}}},
        {"data": {"name": "rf_notes"}, "transform": [{"filter": "datum.role === 'mz'"}], "mark": {"type": "text", "font": "Liberation Serif", "fontWeight": "bold", "fontSize": 28, "align": "right", "baseline": "alphabetic", "color": "#111"}, "encoding": {"text": {"field": "text"}}}
      ]
    },
    {
      "width": 792,
      "height": 467,
      "encoding": {
        "x": {"field": "t", "type": "quantitative", "scale": {"domain": [12.5, 40.07], "nice": false, "zero": false},
          "axis": {"values": [12.5,13,13.5,14,14.5,15,15.5,16,16.5,17,17.5,18,18.5,19,19.5,20,20.5,21,21.5,22,22.5,23,23.5,24,24.5,25,25.5,26,26.5,27,27.5,28,28.5,29,29.5,30,30.5,31,31.5,32,32.5,33,33.5,34,34.5,35,35.5,36,36.5,37,37.5,38,38.5,39,39.5,40],
            "labelExpr": "abs(datum.value/2.5 - round(datum.value/2.5)) < 0.001 ? format(datum.value, '.1f') : ''",
            "tickSize": {"condition": {"test": "abs(datum.value/2.5 - round(datum.value/2.5)) < 0.001", "value": 5}, "value": 3},
            "gridOpacity": {"condition": {"test": "abs(datum.value/2.5 - round(datum.value/2.5)) < 0.001", "value": 1}, "value": 0}}},
        "y": {"field": "v", "type": "quantitative", "scale": {"domain": [0.088, 2.377], "nice": false, "zero": false},
          "axis": {"values": [0.1,0.15,0.2,0.25,0.3,0.35,0.4,0.45,0.5,0.55,0.6,0.65,0.7,0.75,0.8,0.85,0.9,0.95,1,1.05,1.1,1.15,1.2,1.25,1.3,1.35,1.4,1.45,1.5,1.55,1.6,1.65,1.7,1.75,1.8,1.85,1.9,1.95,2,2.05,2.1,2.15,2.2,2.25,2.3,2.35],
            "labelExpr": "abs(datum.value*4 - round(datum.value*4)) < 0.001 ? format(datum.value, '.2f') : ''",
            "tickSize": {"condition": {"test": "abs(datum.value*4 - round(datum.value*4)) < 0.001", "value": 5}, "value": 3},
            "gridOpacity": {"condition": {"test": "abs(datum.value*4 - round(datum.value*4)) < 0.001", "value": 1}, "value": 0}}}
      },
      "layer": [
        {"data": {"name": "vs"}, "mark": {"type": "line", "color": "#111111", "strokeWidth": 1.3}},
        {"data": {"name": "v_brackets"}, "mark": {"type": "line", "color": "#333", "strokeWidth": 1.2}, "encoding": {"detail": {"field": "group"}, "order": {"field": "ord"}}},
        {"data": {"name": "v_labels"}, "transform": [{"filter": "datum.orient === 'h'"}], "mark": {"type": "text", "font": "Liberation Serif", "fontWeight": "bold", "fontSize": 16, "align": "center", "baseline": "alphabetic"},
          "encoding": {"text": {"field": "label"}, "color": {"field": "status", "type": "nominal", "scale": {"domain": ["identified", "tentative"], "range": ["#111111", "#e3262b"]}, "legend": null}}},
        {"data": {"name": "v_labels"}, "transform": [{"filter": "datum.orient === 'v'"}], "mark": {"type": "text", "font": "Liberation Serif", "fontWeight": "bold", "fontSize": 16, "angle": 270, "align": "left", "baseline": "middle"},
          "encoding": {"text": {"field": "label"}, "color": {"field": "status", "type": "nominal", "scale": {"domain": ["identified", "tentative"], "range": ["#111111", "#e3262b"]}, "legend": null}}},
        {"data": {"name": "v_notes"}, "transform": [{"filter": "datum.role === 'title'"}], "mark": {"type": "text", "font": "Liberation Sans", "fontSize": 25, "align": "right", "baseline": "alphabetic", "color": "#333"}, "encoding": {"text": {"field": "text"}}},
        {"data": {"name": "v_notes"}, "transform": [{"filter": "datum.role === 'group'"}], "mark": {"type": "text", "font": "Liberation Serif", "fontWeight": "bold", "fontSize": 16, "align": "center", "baseline": "alphabetic", "color": "#222"}, "encoding": {"text": {"field": "text"}}},
        {"data": {"name": "v_notes"}, "transform": [{"filter": "datum.role === 'scale'"}], "mark": {"type": "text", "font": "Liberation Sans", "fontSize": 11.5, "align": "left", "baseline": "alphabetic", "color": "#333"}, "encoding": {"text": {"field": "text"}}},
        {"data": {"name": "v_notes"}, "transform": [{"filter": "datum.role === 'ion'"}], "mark": {"type": "text", "font": "Liberation Sans", "fontSize": 12, "align": "left", "baseline": "alphabetic", "color": "#7a5aa8"}, "encoding": {"text": {"field": "text"}}},
        {"data": {"name": "v_notes"}, "transform": [{"filter": "datum.role === 'mz'"}], "mark": {"type": "text", "font": "Liberation Serif", "fontWeight": "bold", "fontSize": 28, "align": "right", "baseline": "alphabetic", "color": "#111"}, "encoding": {"text": {"field": "text"}}}
      ]
    }
  ]
}
